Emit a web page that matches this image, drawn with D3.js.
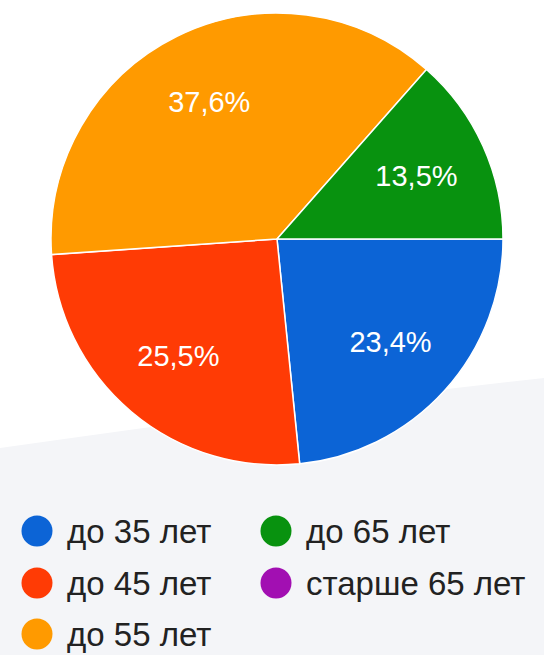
<!DOCTYPE html>
<html lang="ru">
<head>
<meta charset="UTF-8">
<title>Возраст</title>
<script src="https://d3js.org/d3.v7.min.js"></script>
<style>
  html, body { margin: 0; padding: 0; background: #fff; }
  svg { display: block; font-family: "Liberation Sans", Arial, sans-serif; }
</style>
</head>
<body>
<svg id="chart"></svg>
<script>
// данные
const categories = ["до 35 лет", "до 45 лет", "до 55 лет", "до 65 лет", "старше 65 лет"];
const values = [23.4, 25.5, 37.6, 13.5, 0];
const colors = ["#0c64d6", "#ff3b05", "#ff9a00", "#08920f", "#a20fb2"];

const width = 544, height = 655;
const cx = 277, cy = 239, radius = 226;

const svg = d3.select("#chart")
    .attr("width", width)
    .attr("height", height);

// светлая подложка снизу
svg.append("path")
    .attr("d", "M0,448 Q300,405 544,378 L544,655 L0,655 Z")
    .attr("fill", "#f4f5f8");

const color = d3.scaleOrdinal().domain(categories).range(colors);

const pie = d3.pie()
    .sort(null)
    .value(d => d.value)
    .startAngle(Math.PI / 2)
    .endAngle(Math.PI / 2 + 2 * Math.PI);

const dataset = categories.map((c, i) => ({ name: c, value: values[i] }));
const arcs = pie(dataset).filter(d => d.data.value > 0);

const arc = d3.arc().innerRadius(0).outerRadius(radius);
const labelArc = d3.arc().innerRadius(153).outerRadius(153);

const g = svg.append("g").attr("transform", `translate(${cx},${cy})`);

g.selectAll(".slice")
    .data(arcs)
    .enter()
    .append("path")
    .attr("class", "slice")
    .attr("d", arc)
    .attr("fill", d => color(d.data.name))
    .attr("stroke", "#fff")
    .attr("stroke-width", 1.5);

g.selectAll(".label")
    .data(arcs)
    .enter()
    .append("text")
    .attr("class", "label")
    .attr("transform", d => `translate(${labelArc.centroid(d)})`)
    .attr("text-anchor", "middle")
    .attr("dy", "0.36em")
    .attr("fill", "#fff")
    .style("font-size", "29px")
    .text(d => d.data.value.toFixed(1).replace(".", ",") + "%");

// легенда: два столбца
const legendX = [37, 276], legendY = [531, 583, 634];
const legend = svg.selectAll(".legend")
    .data(dataset)
    .enter()
    .append("g")
    .attr("class", "legend")
    .attr("transform", (d, i) => `translate(${legendX[Math.floor(i / 3)]},${legendY[i % 3]})`);

legend.append("circle")
    .attr("r", 15.5)
    .attr("fill", d => color(d.name));

legend.append("text")
    .attr("x", 30)
    .attr("dy", "0.36em")
    .attr("fill", "#222")
    .style("font-size", "33px")
    .text(d => d.name);
</script>
</body>
</html>
